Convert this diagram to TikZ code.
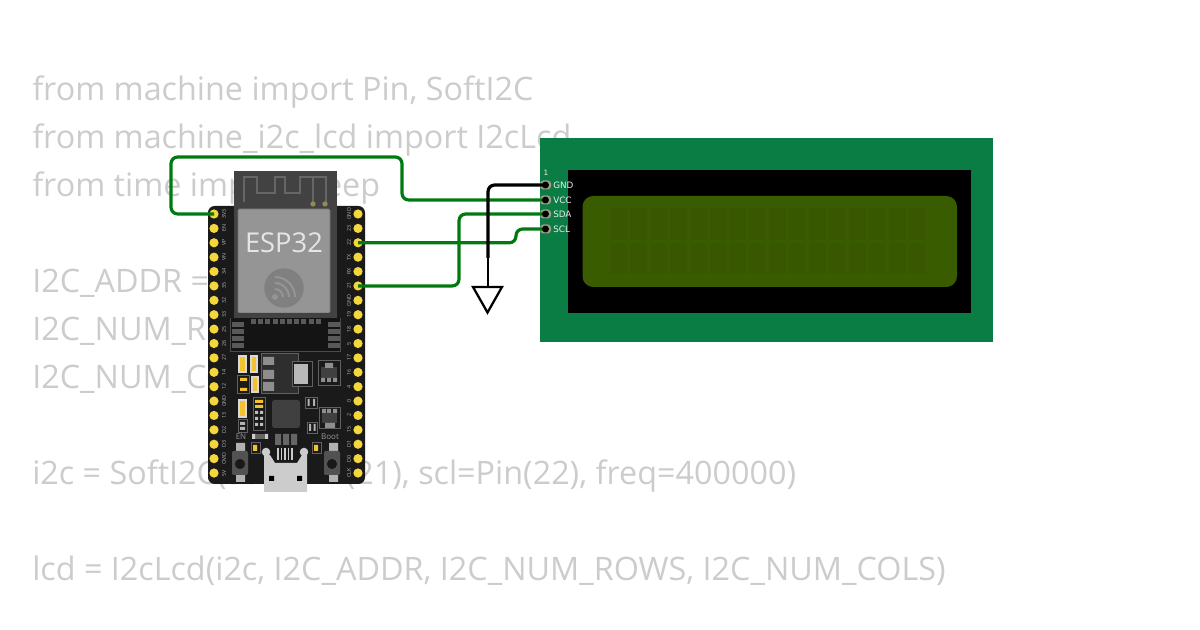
\documentclass[tikz,border=0pt]{standalone}
\usepackage{fontspec}
\setmainfont{Open Sans}
\newfontfamily\lcdfont{DejaVu Sans}
\definecolor{wiregreen}{HTML}{007A10}
\definecolor{pcbgreen}{HTML}{0A7D44}
\definecolor{lcdgreen}{HTML}{3A5C00}
\definecolor{lcdcell}{HTML}{385700}
\definecolor{codegray}{HTML}{CCCCCC}
\definecolor{boardblack}{HTML}{1A1A1A}
\definecolor{pinyellow}{HTML}{F5D63D}
\definecolor{padtan}{HTML}{9C9C80}
\definecolor{canback}{HTML}{424242}
\definecolor{cangray}{HTML}{959595}
\definecolor{partgray}{HTML}{8E8E8E}
\definecolor{smdyellow}{HTML}{F2C230}
\tikzset{
  code/.style={anchor=base west,inner sep=0pt,text=codegray,font=\fontsize{24.24}{24}\selectfont},
  wire/.style={line width=2.4pt,wiregreen,rounded corners=5pt},
  gndwire/.style={line width=2.4pt,black,rounded corners=5pt},
  pin/.style={circle,fill=pinyellow,minimum size=6.9pt,inner sep=0pt},
  pinlabel/.style={rotate=90,inner sep=0pt,text=white!70!black,font=\fontsize{4}{4}\selectfont},
  lcdpad/.style={rectangle,rounded corners=2.5pt,fill=padtan,minimum width=8.25pt,minimum height=6.75pt,inner sep=0pt},
  lcdlabel/.style={anchor=west,inner sep=0pt,text=white!92!black,font=\lcdfont\fontsize{6.6}{6}\selectfont},
  boardtext/.style={inner sep=0pt,text=white!60!black,font=\fontsize{6}{6}\selectfont},
  outline/.style={draw=black!62,line width=.5pt},
  smd/.style={fill=smdyellow,draw=white!85!black,line width=.8pt},
}
\begin{document}
\begin{tikzpicture}[x=0.75pt,y=0.75pt,yscale=-1,xscale=1]
  \useasboundingbox (0,0) rectangle (1200,630);

  % code behind the parts
  \node [code] (line1) at (32,101) {from machine import Pin, SoftI2C};
  \node [code] (line2) at (32,149) {from machine\_i2c\_lcd import I2cLcd};
  \node [code] (line3) at (32,197) {from time import sleep};
  \node [code] (line4) at (32,293) {I2C\_ADDR = 0x27};
  \node [code] (line5) at (32,341) {I2C\_NUM\_ROWS = 2};
  \node [code] (line6) at (32,389) {I2C\_NUM\_COLS = 16};
  \node [code] (line7) at (32,485) {i2c = SoftI2C(sda=Pin(21), scl=Pin(22), freq=400000)};
  \node [code] (line8) at (32,581) {lcd = I2cLcd(i2c, I2C\_ADDR, I2C\_NUM\_ROWS, I2C\_NUM\_COLS)};

  % lcd
  \fill [pcbgreen] (540,138) rectangle (993,342);
  \fill [black] (568,170) rectangle (971,313);
  \fill [lcdgreen,rounded corners=8pt] (582.5,196) rectangle (957,287);
  \foreach \i in {0,...,15} {
    \fill [lcdcell] ({610+19.9*\i},208) rectangle +(17,32);
    \fill [lcdcell] ({610+19.9*\i},243) rectangle +(17,31);
  }
  \node [inner sep=0pt,text=white!92!black,font=\lcdfont\fontsize{5.5}{6}\selectfont] (one) at (546,173) {1};
  \node [lcdpad] (gnd) at (545.5,185) {};
  \node [lcdpad] (vcc) at (545.5,200) {};
  \node [lcdpad] (sda) at (545.5,214) {};
  \node [lcdpad] (scl) at (545.5,229) {};
  \node [lcdlabel] (gndlabel) at (553,185) {GND};
  \node [lcdlabel] (vcclabel) at (553,200) {VCC};
  \node [lcdlabel] (sdalabel) at (553,214) {SDA};
  \node [lcdlabel] (scllabel) at (553,229) {SCL};

  % esp32
  \fill [boardblack,rounded corners=5pt] (208,206) rectangle (365,484);
  \fill [canback] (234,171) rectangle (337,318);
  \draw [black!60,line width=1.3pt] (244,202) -- (244,177) -- (257,177) -- (257,193) -- (275,193) -- (275,177) -- (285,177) -- (285,193) -- (300,193) -- (300,177) -- (326,177) -- (326,203) (313,177) -- (313,203);
  \fill [yellow!50!black!85!gray] (313,204) circle (2pt) (325,204) circle (2pt);
  \fill [cangray,draw=black!55,line width=.6pt,rounded corners=1pt] (238,209) rectangle (330,313);
  \fill [black!92] (230,318) rectangle (340,351);
  \draw [black!70,line width=.5pt] (230,318) -- (230,351) -- (340,351) -- (340,318);
  \fill [canback] (234,313) rectangle (337,318);
  \foreach \i in {0,...,9}
    \fill [black!65] ({251+7.2*\i},319) rectangle +(5,5);
  \foreach \i in {0,...,3} {
    \fill [black!65] (232,{322+7*\i}) rectangle +(12,5.5);
    \fill [black!65] (328,{322+7*\i}) rectangle +(12,5.5);
  }
  \node [inner sep=0pt,text=white!90!black,font=\fontsize{20.5}{22}\selectfont] (esplabel) at (284,243) {ESP32};
  \node [circle,fill=black!50,minimum size=29.5pt,inner sep=0pt] (esplogo) at (284,288) {};
  \draw [cangray,line width=1.5pt] (283,297) arc (0:-90:8) (289,297) arc (0:-90:14) (295,297) arc (0:-90:20);
  \fill [cangray] (275,297) circle (2.2pt);

  \foreach \i/\name in {0/3V3,1/EN,2/VP,3/VN,4/34,5/35,6/32,7/33,8/25,9/26,10/27,11/14,12/12,13/GND,14/13,15/D2,16/D3,17/CMD,18/5V} {
    \node [pin] (left\i) at (214,{214+14.39*\i}) {};
    \node [pinlabel] at (224,{214+14.39*\i}) {\name};
  }
  \foreach \i/\name in {0/GND,1/23,2/22,3/TX,4/RX,5/21,6/GND,7/19,8/18,9/5,10/17,11/16,12/4,13/0,14/2,15/15,16/D1,17/D0,18/CLK} {
    \node [pin] (right\i) at (358,{214+14.39*\i}) {};
    \node [pinlabel] at (349,{214+14.39*\i}) {\name};
  }

  % regulator and the parts round it
  \fill [black!82,outline] (261,353) rectangle (298,393);
  \fill [partgray] (263,357) rectangle (274,365) (263,370) rectangle (274,379) (263,382) rectangle (274,391);
  \fill [boardblack,outline] (292,361) rectangle (312,386);
  \fill [white!72!black] (294,364) rectangle (308,384);
  \fill [boardblack,outline] (318,360) rectangle (340,385);
  \fill [black!75] (321,367) rectangle (337,378);
  \fill [partgray] (325,363) rectangle (333,368) (321,378) rectangle +(4,4) (327,378) rectangle +(4,4) (333,378) rectangle +(4,4);
  \fill [smd] (239,356) rectangle (246,372);
  \fill [smd] (251,356) rectangle (257,372);
  \fill [smd] (252,377) rectangle (258,392);
  \fill [boardblack,outline] (237,375) rectangle (249,393);
  \fill [smdyellow] (240,378) rectangle +(7,3) (240,388) rectangle +(7,3);

  % chip and the parts below
  \fill [black!75,rounded corners=2pt] (272,400) rectangle (300,428);
  \fill [smd] (239,400) rectangle (246,417);
  \fill [boardblack,outline] (238,419) rectangle (247,432);
  \fill [white!70!black] (240,422) rectangle +(5,3) (240,427) rectangle +(5,3);
  \fill [boardblack,outline] (253,397) rectangle (265,430);
  \fill [smdyellow] (255,400) rectangle +(8,3) (255,405) rectangle +(8,3);
  \foreach \y in {411,417,423}
    \fill [white!75!black] (255,\y) rectangle +(3,3) (260,\y) rectangle +(3,3);
  \fill [boardblack,outline] (305,397) rectangle (317,408);
  \fill [boardblack,outline] (307,422) rectangle (317,433);
  \fill [white!70!black] (307.5,399) rectangle +(2,7) (313,399) rectangle +(2,7) (309,424) rectangle +(2,7) (313.5,424) rectangle +(2,7);
  \fill [boardblack,outline] (319,407) rectangle (340,428);
  \fill [black!75] (322,413) rectangle (337,423);
  \fill [partgray] (322,409) rectangle +(4,4) (327,409) rectangle +(4,4) (333,409) rectangle +(4,4) (325,423) rectangle (335,428);
  \node [boardtext] (enlabel) at (241,437) {EN};
  \node [boardtext] (bootlabel) at (330,437) {Boot};
  \fill [black!60] (252,434) rectangle (268,439);
  \fill [white!80!black] (252,434) rectangle +(3,5) (265,434) rectangle +(3,5);
  \fill [black!60] (275,434) rectangle +(6,11) (283,434) rectangle +(6,11) (291,434) rectangle +(6,11);
  \fill [boardblack,outline] (251,442) rectangle (260,453);
  \fill [boardblack,outline] (312,442) rectangle (321,453);
  \fill [smdyellow] (253,445) rectangle +(4,6) (314,445) rectangle +(4,6);

  % buttons
  \fill [black!30] (236,443) rectangle (245,482) (329,443) rectangle (338,482);
  \fill [black!68,rounded corners=1pt] (232,451) rectangle (248,475) (324,451) rectangle (340,475);
  \fill [black!90] (240,464) circle (3.8pt) (332,464) circle (3.8pt);

  % usb
  \fill [white!80!black] (266,452) circle (3.2pt) (304,452) circle (3.2pt);
  \fill [white!80!black] (264,455) -- (270,455) -- (275,463) -- (297,463) -- (302,455) -- (307,455) -- (307,492) -- (264,492) -- cycle;
  \fill [black] (269,476) rectangle +(5,5) (297,476) rectangle +(5,5);
  \foreach \i in {0,...,4} \fill [white!80!black] ({277+3.6*\i},448) rectangle +(1.6,12);

  % wires
  \coordinate (gndjoin) at (488,258);
  \coordinate (gndtop) at (488,287);
  \coordinate (gndleft) at (473,287);
  \coordinate (gndright) at (502,287);
  \coordinate (gndtip) at (487.5,312.5);
  \draw [wire] (left0.center) -- (171,214) -- (171,157) -- (402,157) -- (402,200) -- (vcc.center);
  \draw [wire] (right2.center) -- (516,242.78) -- (516,229) -- (scl.center);
  \draw [wire] (right5.center) -- (459,285.95) -- (459,214) -- (sda.center);
  \draw [gndwire] (gnd.center) -- (488,185) -- (gndjoin);
  \draw [black,line width=1.5pt] (gndjoin) -- (gndtop);
  \draw [black,line width=1.7pt] (gndleft) -- (gndright) -- (gndtip) -- cycle;
  \fill [black] (gnd) circle (2.6pt) (vcc) circle (2.6pt) (sda) circle (2.6pt) (scl) circle (2.6pt);
\end{tikzpicture}
\end{document}
